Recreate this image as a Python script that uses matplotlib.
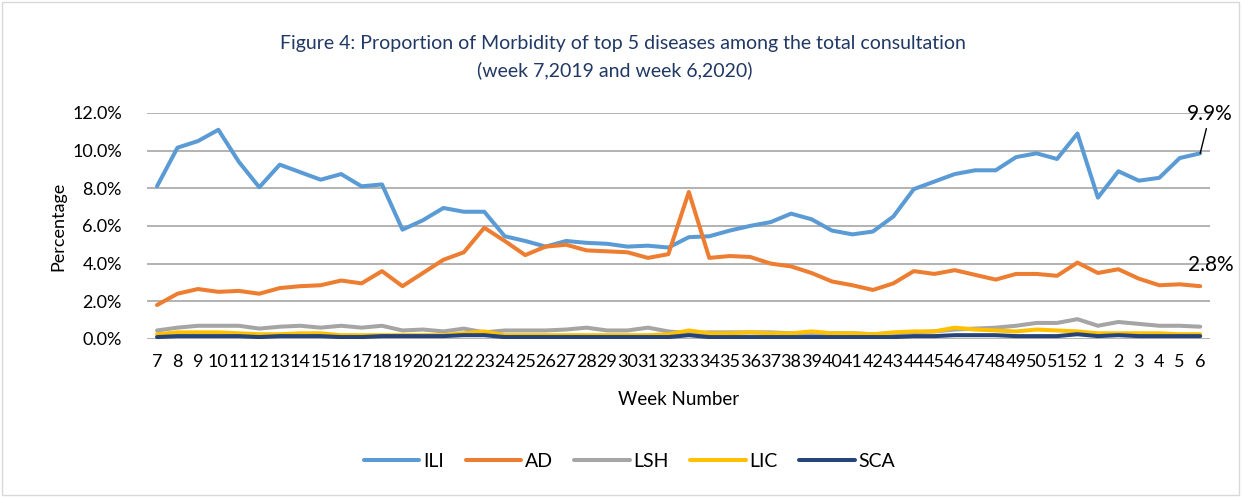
"""
Proportion of morbidity of top 5 diseases, week 7 2019 - week 6 2020
"""

import matplotlib.pyplot as plt
import matplotlib.patches as mpatches

plt.rcParams['font.family'] = ['Lato', 'DejaVu Sans']

# =============================================================================
# DATA
# =============================================================================

weeks = [str(w) for w in range(7, 53)] + [str(w) for w in range(1, 7)]

ili = [8.1, 10.15, 10.5, 11.1, 9.4, 8.05, 9.25, 8.85, 8.45, 8.75, 8.1, 8.2,
       5.8, 6.3, 6.95, 6.75, 6.75, 5.45, 5.2, 4.9, 5.2, 5.1, 5.05, 4.9, 4.95,
       4.85, 5.4, 5.45, 5.75, 6.0, 6.2, 6.65, 6.35, 5.75, 5.55, 5.7, 6.5,
       7.95, 8.35, 8.75, 8.95, 8.95, 9.65, 9.85, 9.55, 10.9, 7.5, 8.9, 8.4,
       8.55, 9.6, 9.85]
ad = [1.8, 2.4, 2.65, 2.5, 2.55, 2.4, 2.7, 2.8, 2.85, 3.1, 2.95, 3.6, 2.8,
      3.5, 4.2, 4.6, 5.9, 5.2, 4.45, 4.9, 5.0, 4.7, 4.65, 4.6, 4.3, 4.5, 7.8,
      4.3, 4.4, 4.35, 4.0, 3.85, 3.5, 3.05, 2.85, 2.6, 2.95, 3.6, 3.45, 3.65,
      3.4, 3.15, 3.45, 3.45, 3.35, 4.05, 3.5, 3.7, 3.2, 2.85, 2.9, 2.8]
lsh = [0.45, 0.6, 0.7, 0.7, 0.7, 0.55, 0.65, 0.7, 0.6, 0.7, 0.6, 0.7, 0.45,
       0.5, 0.4, 0.55, 0.35, 0.45, 0.45, 0.45, 0.5, 0.6, 0.45, 0.45, 0.6,
       0.4, 0.3, 0.35, 0.35, 0.35, 0.35, 0.3, 0.3, 0.3, 0.3, 0.25, 0.3, 0.35,
       0.4, 0.5, 0.55, 0.6, 0.7, 0.85, 0.85, 1.05, 0.7, 0.9, 0.8, 0.7, 0.7,
       0.65]
lic = [0.25, 0.35, 0.35, 0.35, 0.3, 0.25, 0.25, 0.3, 0.3, 0.2, 0.2, 0.2, 0.2,
       0.2, 0.2, 0.3, 0.4, 0.2, 0.2, 0.2, 0.2, 0.2, 0.2, 0.2, 0.2, 0.25, 0.45,
       0.3, 0.3, 0.35, 0.3, 0.3, 0.4, 0.3, 0.3, 0.25, 0.35, 0.4, 0.4, 0.6,
       0.5, 0.45, 0.4, 0.5, 0.45, 0.4, 0.3, 0.3, 0.3, 0.3, 0.25, 0.25]
sca = [0.1, 0.15, 0.15, 0.15, 0.15, 0.1, 0.15, 0.15, 0.15, 0.1, 0.1, 0.15,
       0.15, 0.15, 0.15, 0.2, 0.2, 0.1, 0.1, 0.1, 0.1, 0.1, 0.1, 0.1, 0.1,
       0.1, 0.2, 0.1, 0.1, 0.1, 0.1, 0.1, 0.1, 0.1, 0.1, 0.1, 0.1, 0.15,
       0.15, 0.2, 0.2, 0.2, 0.15, 0.15, 0.15, 0.25, 0.15, 0.2, 0.15, 0.15,
       0.15, 0.15]

series = [('ILI', ili, '#5B9BD5'),
          ('AD', ad, '#ED7D31'),
          ('LSH', lsh, '#A5A5A5'),
          ('LIC', lic, '#FFC000'),
          ('SCA', sca, '#264478')]

# =============================================================================
# PLOT
# =============================================================================

fig = plt.figure(figsize=(12.44, 4.97), dpi=100)
ax = fig.add_axes([0.118, 0.318, 0.855, 0.455])

# outer chart border
fig.patches.append(mpatches.Rectangle((0.002, 0.004), 0.994, 0.992,
                                      transform=fig.transFigure, fill=False,
                                      edgecolor='#D9D9D9', linewidth=1))

x = list(range(len(weeks)))
for name, vals, color in series:
    ax.plot(x, vals, color=color, linewidth=2.9, label=name,
            solid_capstyle='round', solid_joinstyle='round')

ax.set_xlim(-0.5, len(weeks) - 0.5)
ax.set_ylim(0, 12)
ax.set_yticks(range(0, 13, 2))
ax.set_yticklabels([f'{v:.1f}%' for v in range(0, 13, 2)])
ax.set_xticks(x)
ax.set_xticklabels(weeks)
ax.tick_params(axis='both', length=0, labelsize=13, colors='#000000')
ax.tick_params(axis='x', pad=11)
ax.tick_params(axis='y', pad=18)
ax.grid(axis='y', color='#A6A6A6', linewidth=1.2)
ax.set_axisbelow(True)
for s in ax.spines.values():
    s.set_visible(False)

ax.set_xlabel('Week Number', fontsize=13.5, labelpad=15)
ax.set_ylabel('Percentage', fontsize=13, labelpad=4)

title_color = '#203864'
fig.text(0.501, 0.912, 'Figure 4: Proportion of Morbidity of top 5 diseases among the total consultation',
         ha='center', va='center', fontsize=14, color=title_color)
fig.text(0.494, 0.858, '(week 7,2019 and week 6,2020)',
         ha='center', va='center', fontsize=14, color=title_color)

# end-point data labels
ax.annotate('9.9%', xy=(x[-1], ili[-1]), xytext=(7, 28),
            textcoords='offset points', ha='center', va='center', fontsize=15,
            arrowprops=dict(arrowstyle='-', color='black', linewidth=1,
                            shrinkA=1, shrinkB=0))
ax.text(x[-1] + 0.5, 3.9, '2.8%', ha='center', va='center', fontsize=15)

ax.legend(loc='center', bbox_to_anchor=(0.454, -0.54), ncol=5, frameon=False,
          fontsize=14, handlelength=2.85, columnspacing=1.1, handletextpad=0.2)

plt.savefig('out.png', dpi=100, facecolor='white')
